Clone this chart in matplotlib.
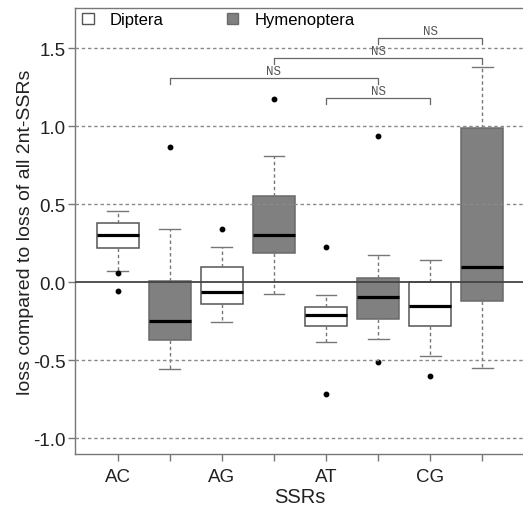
import matplotlib
matplotlib.use("Agg")
import matplotlib.pyplot as plt
from matplotlib.patches import Patch

plt.rcParams['font.family'] = ['Liberation Sans', 'DejaVu Sans']

# box statistics, order: AC-Dip, AC-Hym, AG-Dip, AG-Hym, AT-Dip, AT-Hym, CG-Dip, CG-Hym
positions = [1, 2, 3, 4, 5, 6, 7, 8]
whis_lo = [0.072, -0.554, -0.252, -0.077, -0.385, -0.365, -0.472, -0.549]
q1 = [0.220, -0.368, -0.141, 0.188, -0.282, -0.235, -0.282, -0.122]
median = [0.305, -0.246, -0.060, 0.300, -0.210, -0.094, -0.150, 0.100]
q3 = [0.380, 0.008, 0.096, 0.555, -0.160, 0.028, 0.002, 0.987]
whis_hi = [0.455, 0.340, 0.228, 0.810, -0.083, 0.175, 0.145, 1.378]
outliers = [[0.058, -0.058], [0.865], [0.342], [1.175],
            [0.224, -0.716], [0.94, -0.511], [-0.60], []]
groups = ['Diptera', 'Hymenoptera']
fills = ['white', '#808080', 'white', '#808080', 'white', '#808080', 'white', '#808080']
edges = ['#555555', '#6a6a6a', '#555555', '#6a6a6a', '#555555', '#6a6a6a', '#555555', '#6a6a6a']

tick_labels = ['AC', '', 'AG', '', 'AT', '', 'CG', '']
grid_levels = [-1.0, -0.5, 0.5, 1.0, 1.5]
yticks = [-1.0, -0.5, 0.0, 0.5, 1.0, 1.5]

# significance brackets: (from position, to position, height)
bracket_from = [2, 4, 6, 5]
bracket_to = [6, 8, 8, 7]
bracket_y = [1.31, 1.436, 1.566, 1.18]
bracket_text = ['NS', 'NS', 'NS', 'NS']

fig = plt.figure(figsize=(5.23, 5.10), dpi=100)
ax = fig.add_axes([75 / 523, 55 / 510, 450 / 523, 446 / 510])

stats = []
for i in range(len(positions)):
    stats.append({'whislo': whis_lo[i], 'q1': q1[i], 'med': median[i],
                  'q3': q3[i], 'whishi': whis_hi[i], 'fliers': outliers[i]})

bp = ax.bxp(stats, positions=positions, widths=0.8, patch_artist=True,
            showfliers=True,
            medianprops=dict(color='black', linewidth=2.3),
            whiskerprops=dict(color='#777777', linewidth=1.0, linestyle=(0, (2.5, 2))),
            capprops=dict(color='#777777', linewidth=1.0),
            flierprops=dict(marker='o', markerfacecolor='black', markeredgecolor='black',
                            markersize=3.2, linestyle='none'))
for i, box in enumerate(bp['boxes']):
    box.set_facecolor(fills[i])
    box.set_edgecolor(edges[i])
    box.set_linewidth(1.1)
for cap in bp['caps']:
    x0, x1 = cap.get_xdata()
    mid = (x0 + x1) / 2
    cap.set_xdata([mid - 0.2, mid + 0.2])

# reference lines
for g in grid_levels:
    ax.axhline(g, color='#8a8a8a', linewidth=1.0, linestyle=(0, (2.5, 2)), zorder=3)
ax.axhline(0, color='#444444', linewidth=1.3, zorder=3)

# brackets
tick_down = 0.04
for a, b, h, t in zip(bracket_from, bracket_to, bracket_y, bracket_text):
    ax.plot([a, a, b, b], [h - tick_down, h, h, h - tick_down], color='#666666',
            linewidth=0.9, zorder=4)
    ax.text((a + b) / 2, h + 0.006, t, ha='center', va='bottom', fontsize=9,
            family='Liberation Mono', color='#555555', zorder=5)

ax.set_xlim(0.18, 8.82)
ax.set_ylim(-1.1006, 1.758)
ax.set_xticks(positions)
ax.set_xticklabels(tick_labels, fontsize=13.5, color='#222222')
ax.set_yticks(yticks)
ax.set_yticklabels([f'{v:.1f}' for v in yticks], fontsize=13.5, color='#222222')
ax.tick_params(axis='both', length=5, width=1, color='#777777')
ax.tick_params(axis='x', pad=5)
ax.tick_params(axis='y', pad=1.5)
for side in ['left', 'bottom', 'top', 'right']:
    ax.spines[side].set_color('#777777')
    ax.spines[side].set_linewidth(1.0)

ax.set_xlabel('SSRs', fontsize=14.5, color='#222222')
ax.xaxis.set_label_coords(0.5, -0.074)
ax.set_ylabel('loss compared to loss of all 2nt-SSRs', fontsize=14, color='#222222')
ax.yaxis.set_label_coords(-0.092, 0.5)

handles = [Patch(facecolor='white', edgecolor='#555555', linewidth=1.0),
           Patch(facecolor='#808080', edgecolor='#6a6a6a', linewidth=1.0)]
ax.legend(handles, groups, loc='upper left', bbox_to_anchor=(0.0156, 0.99), ncol=2,
          frameon=False, fontsize=12, handlelength=0.7, handleheight=0.7,
          handletextpad=0.95, columnspacing=3.8, borderpad=0, borderaxespad=0)

fig.savefig('out.png', dpi=100)
